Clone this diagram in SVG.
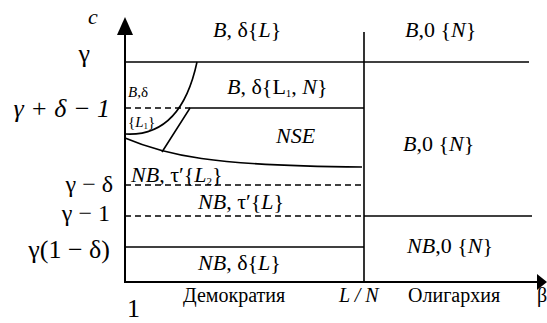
<svg xmlns="http://www.w3.org/2000/svg" width="547" height="323" viewBox="0 0 547 323">
<g id="axes" stroke="#000" stroke-width="2" fill="none">
<line x1="125" y1="282" x2="125" y2="30"/>
<line x1="124" y1="282" x2="538" y2="282"/>
<path d="M117,35 L125,17 L133,35 z" fill="#000" stroke="none"/>
<path d="M537,274 L547,282 L537,290 z" fill="#000" stroke="none"/>
</g>
<g id="connectors" stroke="#000" fill="none">
<g stroke-width="1.6">
<line x1="125" y1="62" x2="529" y2="62"/>
<line x1="364" y1="32" x2="364" y2="282"/>
<polyline points="162,152 190,108 364,108"/>
<path d="M125,134 C158,136 185,118 197,62"/>
<path d="M125,138 C165,155 210,166 362,167"/>
<line x1="364" y1="216" x2="532" y2="216"/>
<line x1="125" y1="247" x2="364" y2="247"/>
</g>
<g stroke-width="1.4" stroke-dasharray="6 4">
<line x1="125" y1="108" x2="190" y2="108"/>
<line x1="125" y1="185" x2="364" y2="185"/>
<line x1="125" y1="216" x2="364" y2="216"/>
</g>
</g>
<g id="axis-labels" fill="#000">
<text font-family="Liberation Serif" font-style="italic" x="88" y="24" font-size="22">c</text>
<text font-family="Liberation Serif" font-size="26" x="90" y="62" text-anchor="end">γ</text>
<text font-family="Liberation Serif" font-size="26" font-style="italic" x="110" y="117" text-anchor="end">γ + δ − 1</text>
<text font-family="Liberation Serif" font-size="24" x="113" y="192" text-anchor="end">γ − δ</text>
<text font-family="Liberation Serif" font-size="24" x="110" y="221" text-anchor="end">γ − 1</text>
<text font-family="Liberation Serif" font-size="26" x="110" y="258" text-anchor="end">γ(1 − δ)</text>
<text font-family="Liberation Serif" font-size="26" x="127" y="317">1</text>
<text font-family="Liberation Serif" font-size="20" x="183" y="302">Демократия</text>
<text font-family="Liberation Serif" font-size="20" font-style="italic" x="339" y="302">L / N</text>
<text font-family="Liberation Serif" font-size="20" x="408" y="302">Олигархия</text>
<text font-family="Liberation Serif" font-size="20" x="537" y="302">β</text>
</g>
<g id="region-top-left"><text font-family="Liberation Serif" font-size="22" x="213" y="37"><tspan font-style="italic">B</tspan>, δ{<tspan font-style="italic">L</tspan>}</text></g>
<g id="region-top-right"><text font-family="Liberation Serif" font-size="22" x="405" y="37"><tspan font-style="italic">B</tspan>,0 {<tspan font-style="italic">N</tspan>}</text></g>
<g id="region-bdl1"><text font-family="Liberation Serif" font-size="22" x="227" y="94"><tspan font-style="italic">B</tspan>, δ{L<tspan font-size="11" dy="3">1</tspan><tspan dy="-3">, </tspan><tspan font-style="italic">N</tspan>}</text></g>
<g id="region-small"><text font-family="Liberation Serif" font-size="15" x="128" y="97"><tspan font-style="italic">B</tspan>,δ</text><text font-family="Liberation Serif" font-size="15" x="128" y="127">{<tspan font-style="italic">L</tspan><tspan font-size="9" dy="2">1</tspan><tspan dy="-2">}</tspan></text></g>
<g id="region-nse"><text font-family="Liberation Serif" font-size="22" font-style="italic" x="276" y="143">NSE</text></g>
<g id="region-mid-right"><text font-family="Liberation Serif" font-size="22" x="403" y="151"><tspan font-style="italic">B</tspan>,0 {<tspan font-style="italic">N</tspan>}</text></g>
<g id="region-nbl2"><text font-family="Liberation Serif" font-size="22" x="131" y="182"><tspan font-style="italic">NB</tspan>, τ′{<tspan font-style="italic">L</tspan><tspan font-size="11" dy="3">2</tspan><tspan dy="-3">}</tspan></text></g>
<g id="region-nbl"><text font-family="Liberation Serif" font-size="22" x="198" y="209"><tspan font-style="italic">NB</tspan>, τ′{<tspan font-style="italic">L</tspan>}</text></g>
<g id="region-nbd"><text font-family="Liberation Serif" font-size="22" x="198" y="270"><tspan font-style="italic">NB</tspan>, δ{<tspan font-style="italic">L</tspan>}</text></g>
<g id="region-nb0"><text font-family="Liberation Serif" font-size="22" x="407" y="253"><tspan font-style="italic">NB</tspan>,0 {<tspan font-style="italic">N</tspan>}</text></g>
</svg>
